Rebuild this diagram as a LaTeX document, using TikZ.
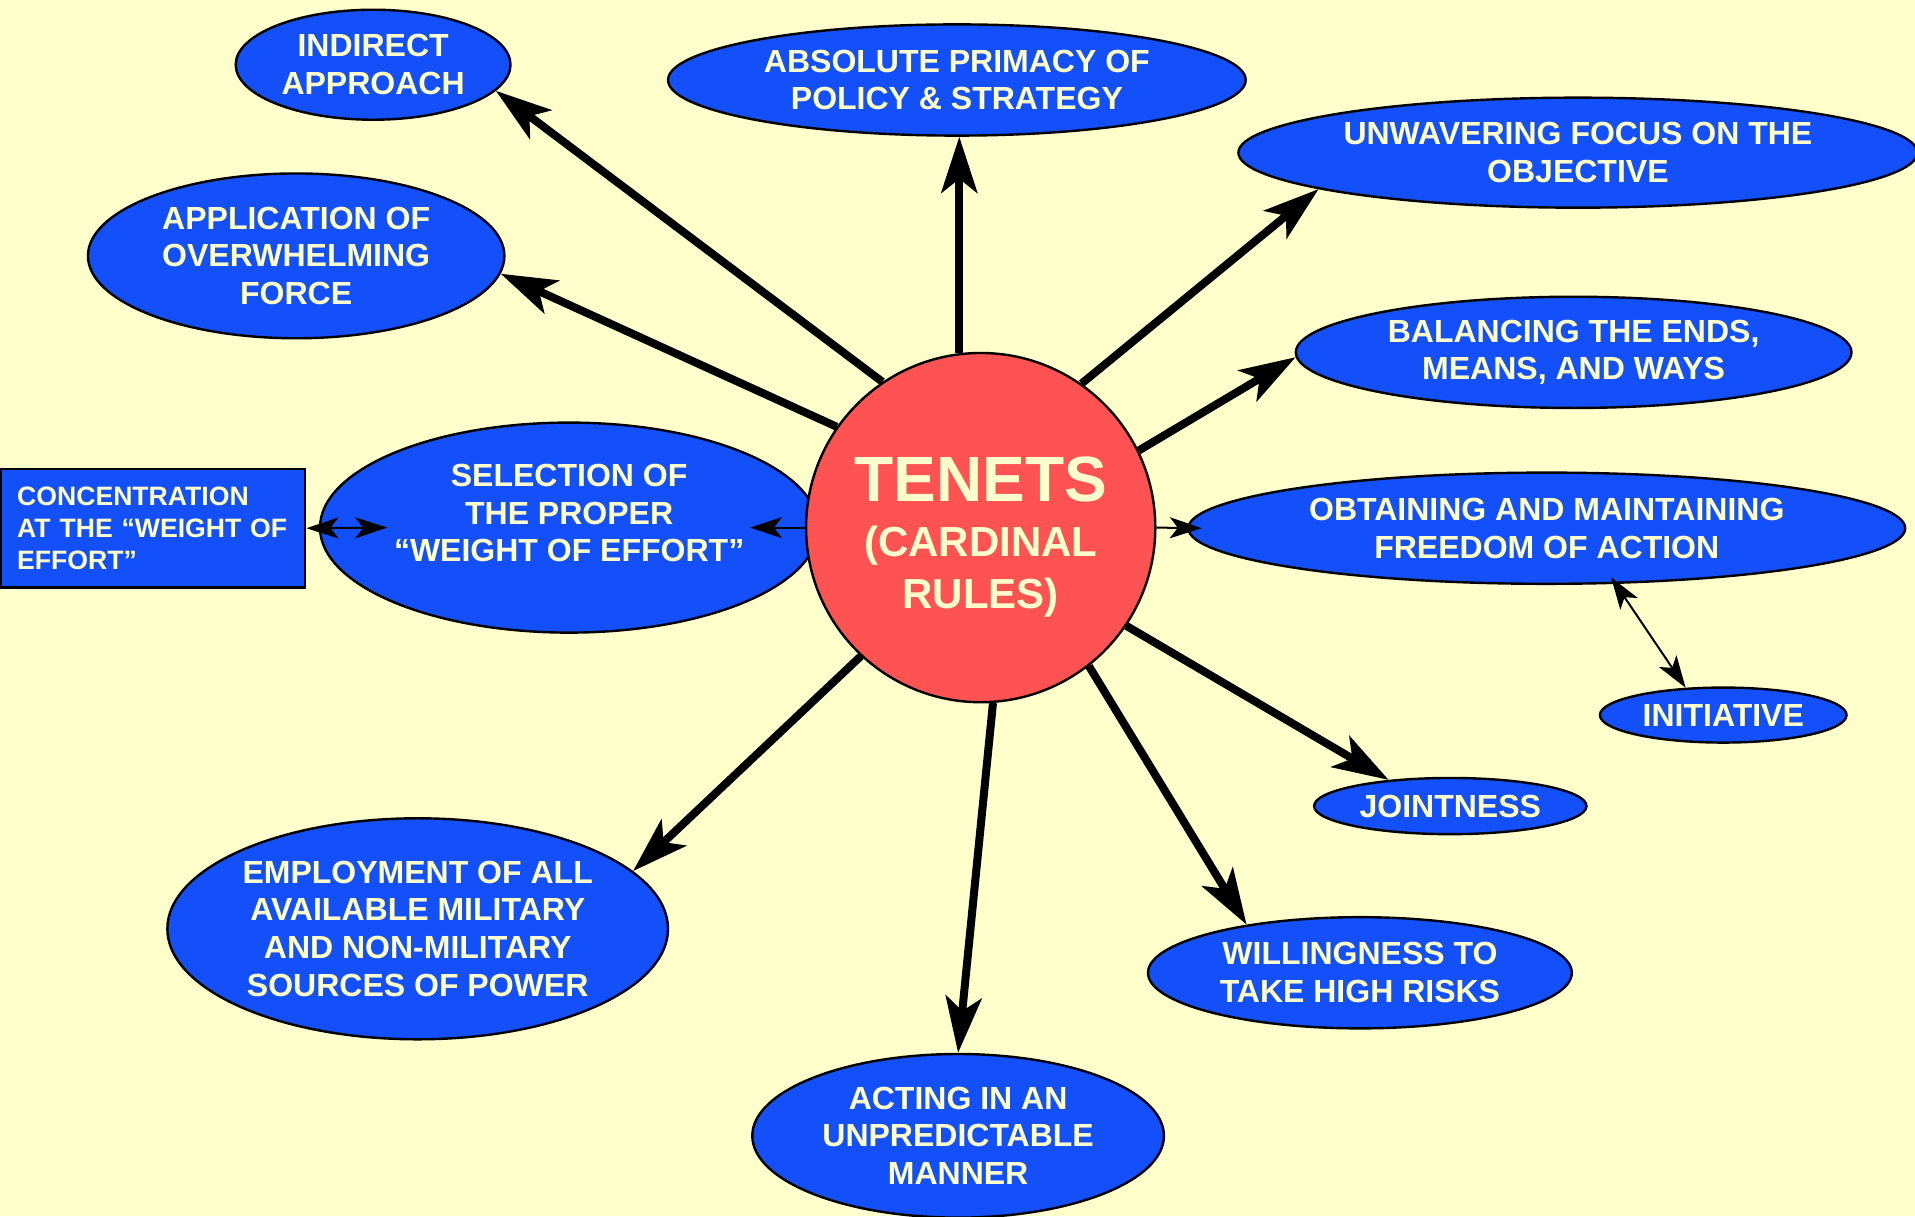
\documentclass[tikz,border=0pt]{standalone}
\usepackage{fontspec}
\setmainfont{Liberation Sans}
\usetikzlibrary{arrows.meta,shapes.geometric,calc}

\definecolor{paper}{RGB}{255,255,204}
\definecolor{ruleblue}{RGB}{20,80,250}
\definecolor{hubred}{RGB}{255,82,82}

\begin{document}
\begin{tikzpicture}[
  x=0.6106pt, y=-0.6106pt,
  rule/.style={ellipse,draw=black,line width=1.2pt,fill=ruleblue,text=paper,
    inner sep=0pt,align=center,font=\fontsize{16}{18.9}\selectfont\bfseries},
  hub/.style={circle,draw=black,line width=1.2pt,fill=hubred,text=paper,
    inner sep=0pt,minimum size=174.6pt,align=center,
    font=\fontsize{21}{26}\selectfont\bfseries},
  sidebox/.style={rectangle,draw=black,line width=1.2pt,fill=ruleblue,text=paper,
    inner xsep=8pt,inner ysep=0pt,text width=136pt,minimum height=59.2pt,align=left,
    font=\fontsize{13.3}{15.9}\selectfont\bfseries},
  bigarrow/.style={line width=4pt,-{Stealth[length=28pt,width=18pt,inset=7pt]}},
  thinarrow/.style={line width=1pt,-{Stealth[length=16pt,width=10.5pt,inset=4pt]}},
  twoway/.style={line width=1pt,
    {Stealth[length=16pt,width=10.5pt,inset=4pt]}-{Stealth[length=16pt,width=10.5pt,inset=4pt]}}
]

% ---- page ----
\useasboundingbox (0,0) rectangle (1568,996);
\fill[paper] (0,0) rectangle (1568,996);

% ---- the rules round the hub ----
\node[rule,minimum width=137.4pt,minimum height=55pt] (indirect) at (305.5,53)
  {INDIRECT\\APPROACH};
\node[rule,minimum width=288.8pt,minimum height=55.6pt] (absolute) at (783.5,65.5)
  {ABSOLUTE PRIMACY OF\\POLICY \& STRATEGY};
\node[rule,minimum width=339.5pt,minimum height=55pt] (unwavering) at (1292,125)
  {UNWAVERING FOCUS ON THE\\OBJECTIVE};
\node[rule,minimum width=208.2pt,minimum height=82.4pt] (application) at (242.5,209.5)
  {APPLICATION OF\\OVERWHELMING\\FORCE};
\node[rule,minimum width=277.8pt,minimum height=55.6pt] (balancing) at (1288.5,288.5)
  {BALANCING THE ENDS,\\MEANS, AND WAYS};
\node[rule,minimum width=249.1pt,minimum height=105pt] (selection) at (466,432)
  {SELECTION OF\\THE PROPER\\“WEIGHT OF EFFORT”\rule[-14.6pt]{0pt}{1pt}};
\node[rule,minimum width=358.4pt,minimum height=55.6pt] (obtaining) at (1266.5,432.5)
  {OBTAINING AND MAINTAINING\\FREEDOM OF ACTION};
\node[sidebox,anchor=west] (concentration) at (0,432.5)
  {CONCENTRATION\\AT THE “WEIGHT OF\\EFFORT”};
\node[rule,minimum width=123.3pt,minimum height=27.5pt] (initiative) at (1411,585.5)
  {INITIATIVE};
\node[rule,minimum width=136.2pt,minimum height=28.1pt] (jointness) at (1187.5,660)
  {JOINTNESS};
\node[rule,minimum width=250.3pt,minimum height=110.5pt] (employment) at (342,760.5)
  {EMPLOYMENT OF ALL\\AVAILABLE MILITARY\\AND NON-MILITARY\\SOURCES OF POWER};
\node[rule,minimum width=211.9pt,minimum height=55.6pt] (willingness) at (1113.5,796.5)
  {WILLINGNESS TO\\TAKE HIGH RISKS};
\node[rule,minimum width=205.8pt,minimum height=81.8pt] (acting) at (784.5,930)
  {ACTING IN AN\\UNPREDICTABLE\\MANNER};

% ---- the hub ----
\node[hub] (hub) at (803,432)
  {\fontsize{32}{32}\selectfont\rule{0pt}{31.6pt}TENETS\\[1.5pt](CARDINAL\\RULES)};

% ---- heads of the short arrows ----
\coordinate (selhead) at ($(hub.west)+(-45,0)$);
\coordinate (obthead) at ($(obtaining.west)+(12,0)$);
\coordinate (conchead) at ($(selection.west)+(56,0)$);

% ---- spokes ----
\draw[bigarrow] (hub.124) -- (indirect.-12.6);
\draw[bigarrow] (hub.97.6) -- (hub.97.6 |- absolute.south);
\draw[bigarrow] (hub.55.5) -- (unwavering.188);
\draw[bigarrow] (hub.145.4) -- (application.-5.7);
\draw[bigarrow] (hub.26.4) -- (balancing.181.9);
\draw[bigarrow] (hub.-34.8) -- (jointness.157);
\draw[bigarrow] (hub.-52.6) -- (willingness.157.7);
\draw[bigarrow] (hub.-86.8) -- (acting.north);
\draw[bigarrow] (hub.-133) -- (employment.15.1);

\draw[thinarrow] (hub.west) -- (selhead);
\draw[thinarrow] (hub.east) -- (obthead);
\draw[twoway] (concentration.east) -- (conchead);
\draw[twoway,shorten <=-4pt] (obtaining.-39.4) -- (initiative.144);

\end{tikzpicture}
\end{document}
